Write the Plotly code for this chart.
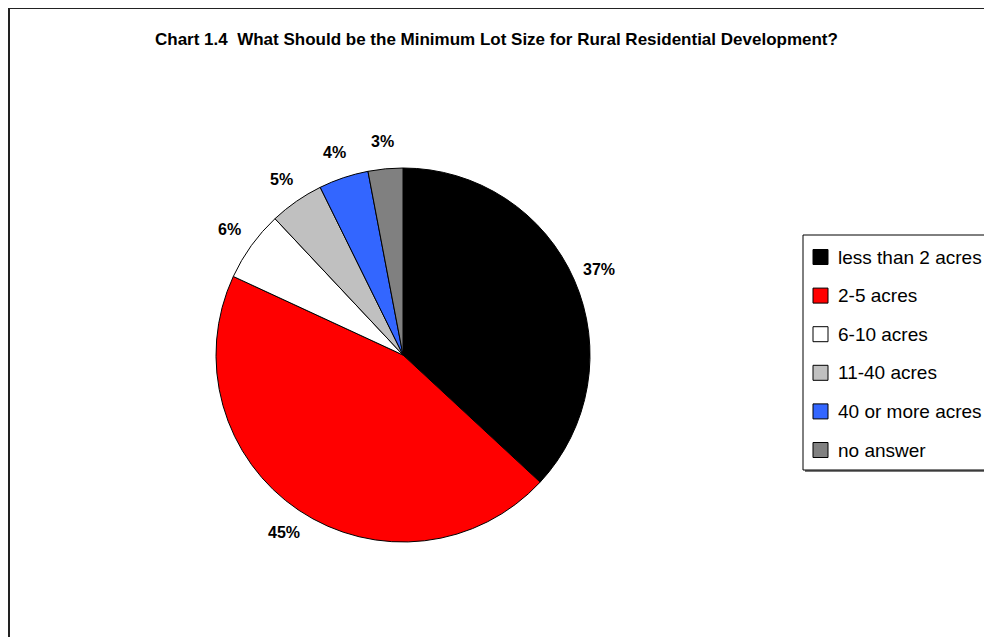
import math
import plotly.graph_objects as go

# page body has an 8px margin; figure is sized so it fits the window
OFF = 8
W, H = 984, 629

title_text = "Chart 1.4  What Should be the Minimum Lot Size for Rural Residential Development?"
categories = ["less than 2 acres", "2-5 acres", "6-10 acres", "11-40 acres", "40 or more acres", "no answer"]
values = [36.9, 45.0, 6.1, 4.7, 4.3, 3.0]
colors = ["#000000", "#FF0000", "#FFFFFF", "#C0C0C0", "#3366FF", "#808080"]

# pie geometry (screen pixels)
cx, cy, R = 403, 355, 187
label_r = 214


def px(x):
    return (x - OFF) / W


def py(y):
    return 1 - (y - OFF) / H


fig = go.Figure()
fig.add_trace(go.Pie(
    labels=categories,
    values=values,
    sort=False,
    direction="clockwise",
    rotation=0,
    marker=dict(colors=colors, line=dict(color="#000000", width=1)),
    textinfo="none",
    hoverinfo="label+percent",
    showlegend=False,
    domain=dict(x=[px(cx - R), px(cx + R)], y=[py(cy + R), py(cy - R)]),
))

FONT = "Liberation Sans, Arial, sans-serif"
annotations = []
total = sum(values)
cum = 0.0
for v in values:
    mid = (cum + v / 2) / total
    cum += v
    th = 2 * math.pi * mid
    lx = cx + label_r * math.sin(th)
    ly = cy - label_r * math.cos(th)
    annotations.append(dict(
        x=px(lx), y=py(ly), xref="paper", yref="paper",
        text=f"<b>{round(100 * v / total)}%</b>", showarrow=False,
        xanchor="center", yanchor="middle",
        font=dict(family=FONT, size=16, color="#000000"),
    ))

# title
annotations.append(dict(
    x=px(496), y=py(40), xref="paper", yref="paper", text=f"<b>{title_text}</b>",
    showarrow=False, xanchor="center", yanchor="middle",
    font=dict(family=FONT, size=17, color="#000000"),
))

shapes = [
    # outer chart frame
    dict(type="rect", xref="paper", yref="paper", x0=px(9), x1=px(1010), y0=py(8), y1=py(660),
         line=dict(color="#222222", width=2), fillcolor="rgba(0,0,0,0)"),
    # legend shadow + box
    dict(type="rect", xref="paper", yref="paper", x0=px(805), x1=px(1012), y0=py(237), y1=py(472),
         line=dict(width=0), fillcolor="#777777"),
    dict(type="rect", xref="paper", yref="paper", x0=px(803), x1=px(1010), y0=py(235), y1=py(470),
         line=dict(color="#000000", width=1), fillcolor="#FFFFFF"),
]

row0, step, sq = 257, 38.6, 15
for i, (cat, col) in enumerate(zip(categories, colors)):
    yc = row0 + i * step
    shapes.append(dict(type="rect", xref="paper", yref="paper",
                       x0=px(813), x1=px(813 + sq), y0=py(yc - sq / 2), y1=py(yc + sq / 2),
                       line=dict(color="#000000", width=1), fillcolor=col))
    annotations.append(dict(
        x=px(836), y=py(yc), xref="paper", yref="paper", text=cat, showarrow=False,
        xanchor="left", yanchor="middle",
        font=dict(family=FONT, size=19, color="#000000"),
    ))

fig.update_layout(
    width=W, height=H,
    margin=dict(l=0, r=0, t=0, b=0),
    paper_bgcolor="#FFFFFF", plot_bgcolor="#FFFFFF",
    annotations=annotations, shapes=shapes,
    showlegend=False,
)

fig.write_html("out.html")
